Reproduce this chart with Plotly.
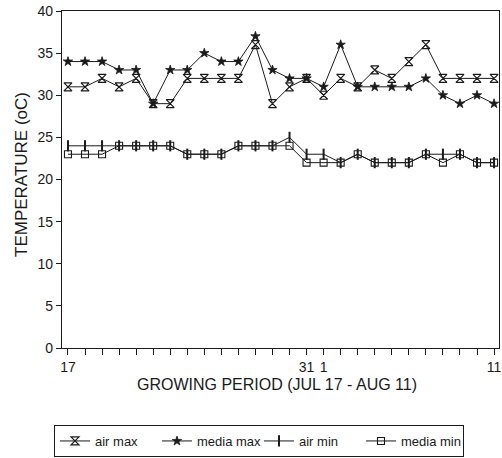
import plotly.graph_objects as go

# Days of the growing period (Jul 17 - Aug 11)
days = ["Jul17", "Jul18", "Jul19", "Jul20", "Jul21", "Jul22", "Jul23", "Jul24",
        "Jul25", "Jul26", "Jul27", "Jul28", "Jul29", "Jul30", "Jul31",
        "Aug1", "Aug2", "Aug3", "Aug4", "Aug5", "Aug6", "Aug7", "Aug8",
        "Aug9", "Aug10", "Aug11"]
day_ticktext = ["17", "", "", "", "", "", "", "", "", "", "", "", "", "", "31",
                "1", "", "", "", "", "", "", "", "", "", "11"]

air_max = [31, 31, 32, 31, 32, 29, 29, 32, 32, 32, 32, 36, 29, 31, 32,
           30, 32, 31, 33, 32, 34, 36, 32, 32, 32, 32]
media_max = [34, 34, 34, 33, 33, 29, 33, 33, 35, 34, 34, 37, 33, 32, 32,
             31, 36, 31, 31, 31, 31, 32, 30, 29, 30, 29]
air_min = [24, 24, 24, 24, 24, 24, 24, 23, 23, 23, 24, 24, 24, 25, 23,
           23, 22, 23, 22, 22, 22, 23, 23, 23, 22, 22]
media_min = [23, 23, 23, 24, 24, 24, 24, 23, 23, 23, 24, 24, 24, 24, 22,
             22, 22, 23, 22, 22, 22, 23, 22, 23, 22, 22]

y_ticks = [0, 5, 10, 15, 20, 25, 30, 35, 40]

FONT = "Liberation Sans, Arial, Helvetica, sans-serif"
INK = "#1a1a1a"

fig = go.Figure()
fig.add_trace(go.Scatter(
    x=days, y=air_max, name="air max", mode="lines+markers",
    line=dict(color=INK, width=1),
    marker=dict(symbol="hourglass-open", size=8, color=INK, line=dict(width=1.2, color=INK))))
fig.add_trace(go.Scatter(
    x=days, y=media_max, name="media max", mode="lines+markers",
    line=dict(color=INK, width=1),
    marker=dict(symbol="star", size=7, color=INK, line=dict(width=0.8, color=INK))))
fig.add_trace(go.Scatter(
    x=days, y=air_min, name="air min", mode="lines+markers",
    line=dict(color=INK, width=1),
    marker=dict(symbol="line-ns-open", size=8, color=INK, line=dict(width=2, color=INK))))
fig.add_trace(go.Scatter(
    x=days, y=media_min, name="media min", mode="lines+markers",
    line=dict(color=INK, width=1),
    marker=dict(symbol="square-open", size=7, color=INK, line=dict(width=1.1, color=INK))))

L, R, T, B = 62, 3, 11, 110
W, H = 502, 458
pw, ph = W - L - R, H - T - B

def px_x(x):
    return (x - L) / pw

def px_y(y):
    return 1 - (y - T) / ph

fig.update_layout(
    width=W, height=H,
    margin=dict(l=L, r=R, t=T, b=B, autoexpand=False),
    paper_bgcolor="white", plot_bgcolor="white",
    font=dict(family=FONT, size=14, color=INK),
    showlegend=True,
    legend=dict(
        orientation="h", x=px_x(54), y=px_y(425), xanchor="left", yanchor="top",
        bordercolor=INK, borderwidth=1, bgcolor="white",
        font=dict(family=FONT, size=13, color=INK),
        entrywidth=57, entrywidthmode="pixels", itemwidth=30, tracegroupgap=0,
    ),
    xaxis=dict(
        type="category", categoryorder="array", categoryarray=days,
        range=[-0.35, 25.29], automargin=False,
        tickmode="array", tickvals=days, ticktext=day_ticktext,
        ticks="outside", ticklen=6, tickwidth=1, tickcolor=INK,
        showline=True, linecolor=INK, linewidth=1.2, mirror=True,
        showgrid=False, zeroline=False,
        tickfont=dict(family=FONT, size=14, color=INK),
    ),
    yaxis=dict(
        range=[0, 40], tickmode="array", tickvals=y_ticks, automargin=False,
        ticks="outside", ticklen=5, tickwidth=1, tickcolor=INK,
        showline=True, linecolor=INK, linewidth=1.2, mirror=True,
        showgrid=False, zeroline=False,
        tickfont=dict(family=FONT, size=14, color=INK),
    ),
    annotations=[
        dict(text="GROWING PERIOD (JUL 17 - AUG 11)", xref="paper", yref="paper",
             x=px_x(277), y=px_y(385), xanchor="center", yanchor="middle",
             showarrow=False, font=dict(family=FONT, size=16, color=INK)),
        dict(text="TEMPERATURE (oC)", xref="paper", yref="paper",
             x=px_x(22), y=px_y(175), xanchor="center", yanchor="middle",
             textangle=-90, showarrow=False, font=dict(family=FONT, size=17, color=INK)),
    ],
)

fig.write_html("out.html", config={"displayModeBar": False},
               post_script="document.body.style.margin='0';document.body.style.overflow='hidden';")
